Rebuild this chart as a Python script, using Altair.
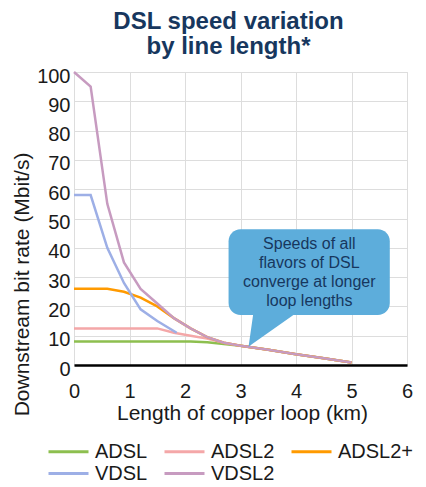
import altair as alt
import pandas as pd

# ---- data ----
series = ["ADSL", "ADSL2", "ADSL2+", "VDSL", "VDSL2"]
colors = ["#8DBF4F", "#F4A7A8", "#FF9A00", "#9DAFE6", "#C79BC0"]

km = [0, 0.3, 0.6, 0.9, 1.2, 1.5, 1.8, 2.1, 2.4, 2.7, 3.0, 3.5, 4.0, 4.5, 5.0]
adsl = [8, 8, 8, 8, 8, 8, 8, 8, 7.8, 7.2, 6.6, 5.2, 3.7, 2.3, 0.85]
adsl2 = [12.5, 12.5, 12.5, 12.5, 12.5, 12.5, 11, 10, 9, 7.6, 6.6, 5.2, 3.7, 2.3, 0.85]
adsl2p = [26, 26, 26, 25, 23, 20, 16, 12.5, 9.5, 7.6, 6.6, 5.2, 3.7, 2.3, 0.85]
vdsl_km = [0, 0.3, 0.6, 0.9, 1.2, 1.5, 1.85]
vdsl = [58, 58, 40, 28, 19, 15, 11]
vdsl2 = [100, 95, 55, 35, 26, 21, 16, 12.5, 9.5, 7.6, 6.6, 5.2, 3.7, 2.3, 0.85]

x_ticks = [0, 1, 2, 3, 4, 5, 6]
y_ticks = [0, 10, 20, 30, 40, 50, 60, 70, 80, 90, 100]

callout_text = ["Speeds of all", "flavors of DSL", "converge at longer", "loop lengths"]
# callout box in data units (x km, y Mbit/s)
box_x, box_x2, box_y, box_y2 = [2.785], [5.69], [46.3], [17.06]
tail_x = [3.145, 3.23, 3.985]
tail_y = [6.25, 7.39, 17.5]
tail_y2 = [6.25, 17.5, 17.5]
label_x, label_y = [4.24], [39.6]

rows = []
for name, xs, ys in [
    ("ADSL", km, adsl),
    ("ADSL2", km, adsl2),
    ("ADSL2+", km, adsl2p),
    ("VDSL", vdsl_km, vdsl),
    ("VDSL2", km, vdsl2),
]:
    for xv, yv in zip(xs, ys):
        rows.append({"series": name, "km": xv, "rate": yv})
df = pd.DataFrame(rows)

FONT = "Liberation Sans"
TXT = "#1a1a1a"
NAVY = "#17375E"

xscale = alt.Scale(domain=[0, 6], nice=False, zero=False)
yscale = alt.Scale(domain=[0, 100], nice=False)

x_axis = alt.Axis(values=x_ticks, format="d", title="Length of copper loop (km)",
                  grid=True, ticks=False, tickSize=0, domain=True,
                  domainColor="#000000", domainWidth=2.5,
                  labelFontSize=20, labelFont=FONT, labelColor=TXT,
                  labelBaseline="alphabetic", labelPadding=32,
                  labelFlush=False, labelOverlap=False,
                  titleFontSize=21, titleFont=FONT, titleColor=TXT,
                  titleFontWeight="normal", titleBaseline="alphabetic",
                  titleX=168, titleY=54, titleAnchor="middle")
y_axis = alt.Axis(values=y_ticks, format="d",
                  title="Downstream bit rate (Mbit/s)",
                  grid=True, ticks=False, tickSize=0, domain=False,
                  labelFontSize=20, labelFont=FONT, labelColor=TXT,
                  labelBaseline="middle", labelOffset=4, labelPadding=4,
                  labelFlush=False, labelOverlap=False,
                  titleFontSize=21, titleFont=FONT, titleColor=TXT,
                  titleFontWeight="normal", titleBaseline="alphabetic",
                  titleAngle=270, titleX=-46, titleY=212,
                  titleAnchor="middle")

lines = alt.Chart(df).mark_line(strokeWidth=2.5, interpolate="linear").encode(
    x=alt.X("km:Q", scale=xscale, axis=x_axis),
    y=alt.Y("rate:Q", scale=yscale, axis=y_axis),
    color=alt.Color("series:N",
                    scale=alt.Scale(domain=series, range=colors),
                    legend=alt.Legend(title=None, orient="none", direction="horizontal",
                                      legendX=-17, legendY=368,
                                      columns=3, columnPadding=10, rowPadding=0,
                                      symbolType="M-2,0H2", symbolSize=400,
                                      symbolStrokeWidth=3, labelFontSize=20,
                                      labelFont=FONT, labelColor=TXT,
                                      labelOffset=15)),
    detail="series:N",
    order="km:Q",
)

box_df = pd.DataFrame({"x": box_x, "x2": box_x2, "y": box_y, "y2": box_y2})
box = alt.Chart(box_df).mark_rect(color="#5DADDB", cornerRadius=12).encode(
    x=alt.X("x:Q", scale=xscale, axis=x_axis), x2="x2:Q",
    y=alt.Y("y:Q", scale=yscale, axis=y_axis), y2="y2:Q",
)

tail_df = pd.DataFrame({"x": tail_x, "y": tail_y, "y2": tail_y2})
tail = alt.Chart(tail_df).mark_area(color="#5DADDB", interpolate="linear").encode(
    x=alt.X("x:Q", scale=xscale, axis=x_axis),
    y=alt.Y("y:Q", scale=yscale, axis=y_axis), y2="y2:Q",
)

label_df = pd.DataFrame({"x": label_x, "y": label_y, "t": [callout_text]})
label = alt.Chart(label_df).mark_text(
    font=FONT, fontSize=16, color=NAVY, align="center",
    baseline="alphabetic", lineHeight=19,
).encode(
    x=alt.X("x:Q", scale=xscale, axis=x_axis),
    y=alt.Y("y:Q", scale=yscale, axis=y_axis),
    text="t",
)

chart = alt.layer(lines, tail, box, label).properties(
    width=333, height=293,
    autosize=alt.AutoSizeParams(type="none"),
    padding={"left": 74, "right": 19, "top": 72, "bottom": 122},
    title=alt.TitleParams(text=["DSL speed variation", "by line length*"],
                          fontSize=24, font=FONT, fontWeight="bold",
                          color=NAVY, anchor="middle", dx=-12, offset=7,
                          lineHeight=25),
).configure_view(stroke=None).configure_axis(
    gridColor="#D5DFF0", gridWidth=1
).configure(background="white")

chart.save("out.html", embed_options={"renderer": "svg", "actions": False})
